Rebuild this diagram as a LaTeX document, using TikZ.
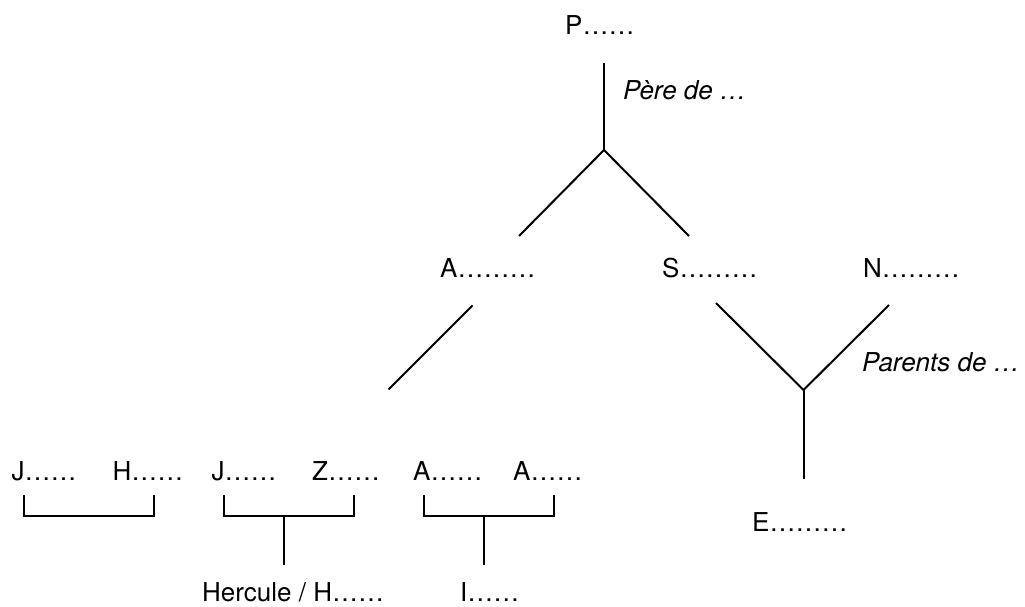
\documentclass[tikz,border=0pt]{standalone}
\usepackage{fontspec}
\setmainfont{TeX Gyre Heros}
\newcommand{\lbfont}{\fontsize{26}{31}\selectfont}
\begin{document}
\begin{tikzpicture}[x=1pt,y=-1pt,
  lbl/.style={inner sep=0pt, anchor=base west, font=\lbfont},
  ital/.style={inner sep=0pt, anchor=base west, font=\lbfont\itshape},
  link/.style={line width=2pt, line join=miter}]
\useasboundingbox (0,0) rectangle (1025,607);
% labels
\node[lbl] (p) at (565,35) {P……};
\node[ital] (pere) at (623,100) {Père de …};
\node[lbl] (a) at (440,277) {A………};
\node[lbl] (s) at (662,277) {S………};
\node[lbl] (n) at (863,277) {N………};
\node[ital] (parents) at (862,371) {Parents de …};
\node[lbl] (e) at (752,531) {E………};
\node[lbl] (j1) at (11.5,480) {J……};
\node[lbl] (h1) at (112.5,480) {H……};
\node[lbl] (j2) at (211.5,480) {J……};
\node[lbl] (z) at (312,480) {Z……};
\node[lbl] (a1) at (413,480) {A……};
\node[lbl] (a2) at (513,480) {A……};
\node[lbl] (herc) at (202,601) {Hercule / H……};
\node[lbl] (i) at (460,601) {I……};
% coordinates
\coordinate (ptop) at (604,63);
\coordinate (apex) at (604,150);
\coordinate (al) at (519,236);
\coordinate (ar) at (689,236);
\coordinate (aa) at (472.5,305.5);
\coordinate (ab) at (388.5,389.5);
\coordinate (ys) at (716,303);
\coordinate (yn) at (889,305);
\coordinate (yc) at (803.5,390);
\coordinate (ye) at (803.5,479);
% tree lines
\draw[link] (ptop) -- (apex);
\draw[link] (al) -- (apex) -- (ar);
\draw[link] (aa) -- (ab);
\draw[link] (ys) -- (yc) -- (yn);
\draw[link] (yc) -- (ye);
% brackets
\coordinate (b1l) at (23.5,495);
\coordinate (b1r) at (154,495);
\coordinate (b2l) at (223.5,495);
\coordinate (b2r) at (354,495);
\coordinate (b2s) at (284,565);
\coordinate (b3l) at (423.5,495);
\coordinate (b3r) at (554,495);
\coordinate (b3s) at (484,565);
\draw[link] (b1l) -- ++(0,21) -| (b1r);
\draw[link] (b2l) -- ++(0,21) -| (b2r);
\draw[link] (b2s) -- (b2s |- 0,516);
\draw[link] (b3l) -- ++(0,21) -| (b3r);
\draw[link] (b3s) -- (b3s |- 0,516);
\end{tikzpicture}
\end{document}
